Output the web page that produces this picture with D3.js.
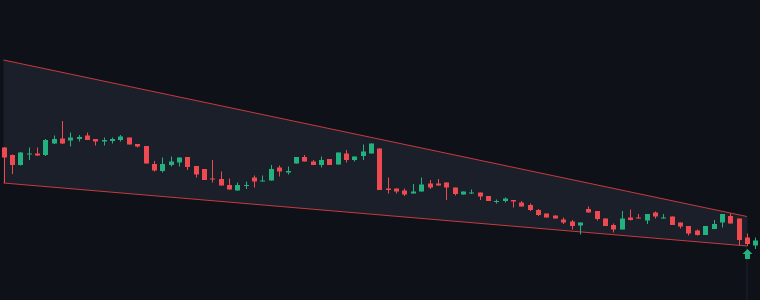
<!DOCTYPE html>
<html>
<head>
<meta charset="utf-8">
<script src="https://cdn.jsdelivr.net/npm/d3@7"></script>
<style>
  html, body { margin: 0; padding: 0; background: #0e1118; }
  svg { display: block; }
</style>
</head>
<body>
<div id="chart"></div>
<script>
// OHLC values, one entry per bar
const opens  = [152.5,145,135,145.5,146.5,145,156.5,161.5,159.5,161,164.5,161,158.5,159,160,162.5,156,154,136,129,
                135,137.5,143,134,131,121.5,121,115,109.5,114,122.5,118.5,119.5,132.5,127.5,136.5,143,138.5,135,141,
                135.5,146.5,140,144,146.5,151.5,111.5,111.5,109.5,106.5,108.5,116.5,116.5,117.5,112.5,105.5,106.5,107.5,104,98,
                99,100,97.5,95,90,86.5,84.5,80.5,78.5,74.5,91,89,81.5,75,70.5,82.5,82.5,79.5,87.5,81.5,
                83.5,77.5,74,69.5,65,71,77.5,84,81.5,62.5,54.5];
const highs  = [153,145.5,148,152.5,152.5,161,164.5,179,167.5,165,167.5,161,162.5,162.5,165,162.5,156,154,139,142.5,
                143.5,142.5,143,134,131,140,128.5,121.5,117.5,118.5,124.5,124.5,135,134.5,133.5,143,145,140,143.5,141,
                147.5,150,143.5,155.5,156.5,151.5,122.5,111.5,111.5,116,122.5,120,121,117.5,112.5,108.5,110.5,107.5,104,100.5,
                102.5,100,99,96.5,91,86.5,84.5,82.5,80,77.5,93.5,89,81.5,76.5,89,90.5,86,86,88.5,86,
                83.5,77.5,74,70.5,74,80,86,86.5,81.5,66.5,62.5];
const lows   = [117,126,134.5,140,144,144,156,156,153.5,158.5,160,154.5,154.5,156.5,158.5,155.5,152.5,136.5,128.5,127.5,
                133.5,133.5,130,122.5,120,117.5,114.5,110.5,109.5,111,112.5,118.5,119.5,123.5,125.5,136.5,138.5,135,132.5,135,
                135.5,137.5,138.5,140,146.5,110,106.5,106.5,104,106.5,108.5,111,114.5,100,104.5,105.5,106,100,99,96.5,
                97.5,92.5,93.5,89,84,82.5,81.5,76,70.5,65.5,87.5,79.5,74,67.5,70.5,79.5,81.5,76,81.5,81.5,
                75,71.5,64.5,64.5,65,71,72.5,76.5,55,54,51];
const closes = [142.5,135,147.5,146.5,144.5,160,161,156.5,162.5,163,160,158.5,160,161,163.5,155.5,153.5,136.5,129.5,136,
                138.5,142.5,133,125.5,120,120.5,114.5,110.5,115,115,118.5,119.5,131,128.5,129,143,138.5,135,140,135,
                147.5,140,143.5,148.5,156.5,110,110,108.5,105.5,108.5,115.5,112.5,114.5,112.5,106,108.5,107.5,103.5,99,99,
                101.5,98.5,93.5,90,85,82.5,81.5,77.5,74,77.5,87.5,81,74,70.5,81.5,80,81.5,86,83.5,82.5,
                75,73.5,66.5,65,74,76,86,76.5,60,56,59.5];

// falling wedge: [start bar, end bar] and price at each end
const wedgeBars  = [0, 89];
const wedgeUpper = [240, 83.5];
const wedgeLower = [117, 54];
const breakoutBar = 89;

const W = 760, H = 300;
const bg = '#0e1118';
const upColor = '#22b17f';
const downColor = '#ee4a50';
const wedgeStroke = '#c83a40';

const bars = opens.map(function(o, i) {
  return {i: i, o: o, h: highs[i], l: lows[i], c: closes[i]};
});

const x = d3.scaleLinear().domain([0, bars.length - 1]).range([3.5, 755.3]);
const y = d3.scaleLinear().domain([0, 300]).range([H, 0]);

const svg = d3.select('#chart').append('svg')
  .attr('width', W)
  .attr('height', H);

svg.append('rect')
  .attr('width', W)
  .attr('height', H)
  .attr('fill', bg);

// marker line at the breakout bar
svg.append('line')
  .attr('x1', x(breakoutBar))
  .attr('x2', x(breakoutBar))
  .attr('y1', y(wedgeUpper[1]))
  .attr('y2', H)
  .attr('stroke', '#1f232d')
  .attr('stroke-width', 1);

// wedge area
const poly = [
  [x(wedgeBars[0]), y(wedgeUpper[0])],
  [x(wedgeBars[1]), y(wedgeUpper[1])],
  [x(wedgeBars[1]), y(wedgeLower[1])],
  [x(wedgeBars[0]), y(wedgeLower[0])]
];
svg.append('path')
  .attr('d', 'M' + poly.join('L') + 'Z')
  .attr('fill', '#1b1f2a');

const edge = d3.line();
svg.append('path')
  .attr('d', edge([poly[0], poly[1]]))
  .attr('stroke', wedgeStroke)
  .attr('stroke-width', 1)
  .attr('fill', 'none');
svg.append('path')
  .attr('d', edge([poly[3], poly[2]]))
  .attr('stroke', wedgeStroke)
  .attr('stroke-width', 1)
  .attr('fill', 'none');

// candles
const bodyW = 5;
const g = svg.append('g');

const candle = g.selectAll('g.candle')
  .data(bars)
  .enter().append('g')
  .attr('class', 'candle');

candle.append('line')
  .attr('x1', function(d) { return Math.round(x(d.i)) + 0.5; })
  .attr('x2', function(d) { return Math.round(x(d.i)) + 0.5; })
  .attr('y1', function(d) { return y(d.h); })
  .attr('y2', function(d) { return y(d.l); })
  .attr('stroke', function(d) { return d.c >= d.o ? upColor : downColor; })
  .attr('stroke-width', 1);

candle.append('rect')
  .attr('x', function(d) { return Math.round(x(d.i)) + 0.5 - bodyW / 2; })
  .attr('y', function(d) { return y(Math.max(d.o, d.c)); })
  .attr('width', bodyW)
  .attr('height', function(d) { return Math.max(1, Math.abs(y(d.o) - y(d.c))); })
  .attr('fill', function(d) { return d.c >= d.o ? upColor : downColor; });

// breakout arrow below the bar
const ax = Math.round(x(breakoutBar)) + 0.5;
const ay = y(lows[breakoutBar]) + 3;
svg.append('path')
  .attr('transform', 'translate(' + ax + ',' + ay + ')')
  .attr('d', 'M0,0 L5,5 L2.5,5 L2.5,10 L-2.5,10 L-2.5,5 L-5,5 Z')
  .attr('fill', upColor);
</script>
</body>
</html>
